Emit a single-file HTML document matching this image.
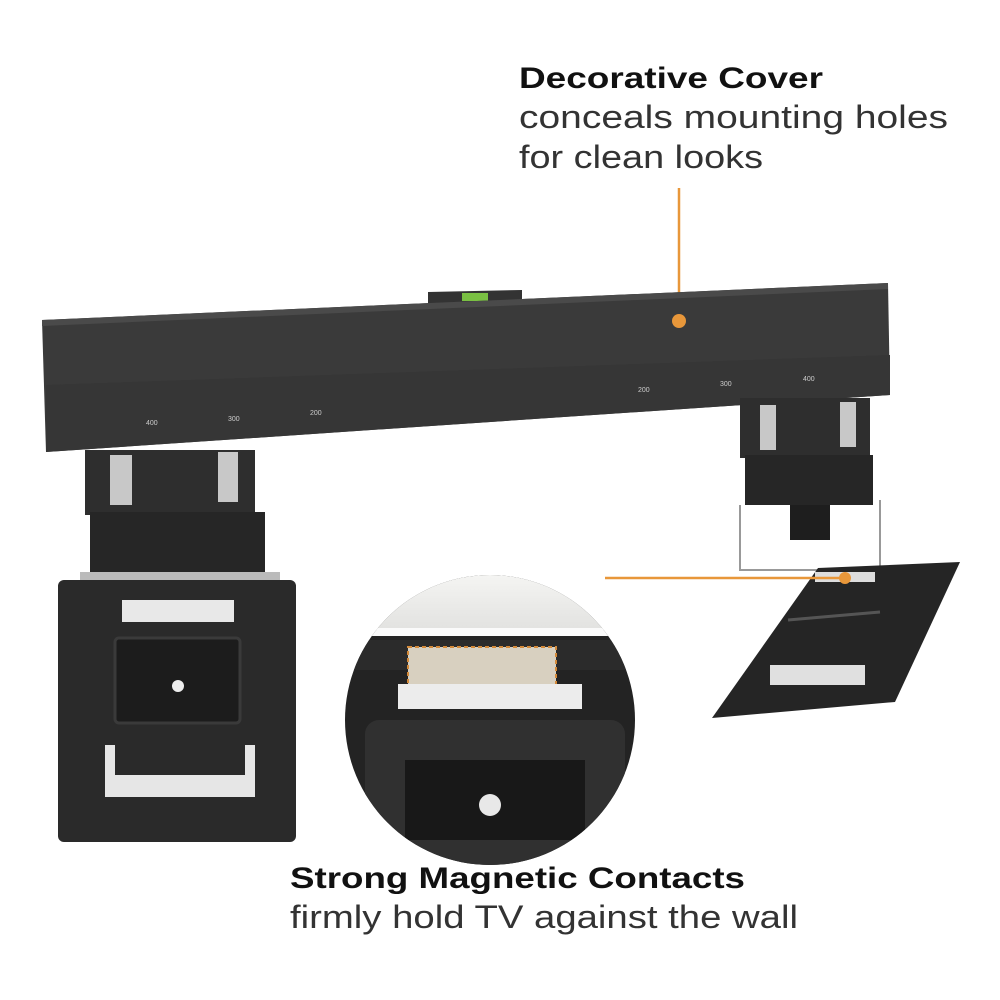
<!DOCTYPE html>
<html><head><meta charset="utf-8"><style>
html,body{margin:0;padding:0;background:#fff;}
svg{display:block}
</style></head><body>
<svg width="1000" height="1000" viewBox="0 0 1000 1000" xmlns="http://www.w3.org/2000/svg" font-family="Liberation Sans, sans-serif">
<defs>
<clipPath id="cc"><circle cx="490" cy="720" r="145"/></clipPath>
<linearGradient id="sky" x1="0" y1="0" x2="0" y2="1"><stop offset="0" stop-color="#f6f6f4"/><stop offset="1" stop-color="#e2e2e0"/></linearGradient>
</defs>
<rect width="1000" height="1000" fill="#fff"/>
<!-- top text -->
<text x="519" y="88" font-size="30" font-weight="bold" fill="#111" textLength="304" lengthAdjust="spacingAndGlyphs">Decorative Cover</text>
<text x="519" y="128" font-size="32" fill="#333" textLength="429" lengthAdjust="spacingAndGlyphs">conceals mounting holes</text>
<text x="519" y="168" font-size="32" fill="#333" textLength="244" lengthAdjust="spacingAndGlyphs">for clean looks</text>
<line x1="679" y1="188" x2="679" y2="320" stroke="#e8973a" stroke-width="2.5"/>
<!-- bar -->
<polygon points="428,292 522,290 522,306 428,308" fill="#333"/>
<rect x="462" y="293" width="26" height="8" fill="#7ac043"/>
<polygon points="42,320 888,283 890,395 46,452" fill="#3a3a3a"/>
<polygon points="42,320 888,283 888,289 42,326" fill="#4a4a4a"/>
<polygon points="46,385 890,355 890,395 46,452" fill="#363636"/>
<circle cx="679" cy="321" r="7" fill="#e8973a"/>
<g font-size="7" fill="#ccc"><text x="146" y="425">400</text><text x="228" y="421">300</text><text x="310" y="415">200</text><text x="638" y="392">200</text><text x="720" y="386">300</text><text x="803" y="381">400</text></g>
<!-- left bracket -->
<rect x="85" y="450" width="170" height="65" fill="#2e2e2e"/>
<rect x="110" y="455" width="22" height="50" fill="#c8c8c8"/><rect x="218" y="452" width="20" height="50" fill="#c8c8c8"/>
<rect x="90" y="512" width="175" height="65" fill="#262626"/>
<rect x="80" y="572" width="200" height="12" fill="#bbb"/>
<rect x="58" y="580" width="238" height="262" rx="6" fill="#2a2a2a"/>
<rect x="122" y="600" width="112" height="22" fill="#e8e8e8"/>
<rect x="115" y="638" width="125" height="85" rx="4" fill="#1c1c1c" stroke="#3a3a3a" stroke-width="3"/>
<circle cx="178" cy="686" r="6" fill="#eee"/>
<rect x="105" y="745" width="150" height="52" fill="#e6e6e6"/>
<rect x="115" y="745" width="130" height="30" fill="#2a2a2a"/>
<!-- right bracket -->
<rect x="740" y="398" width="130" height="60" fill="#2e2e2e"/>
<rect x="760" y="405" width="16" height="45" fill="#c8c8c8"/><rect x="840" y="402" width="16" height="45" fill="#c8c8c8"/>
<rect x="745" y="455" width="128" height="50" fill="#262626"/>
<rect x="790" y="505" width="40" height="35" fill="#1e1e1e"/>
<polyline points="740,505 740,570 880,570 880,500" fill="none" stroke="#999" stroke-width="2"/>
<polygon points="818,568 960,562 895,702 712,718" fill="#252525"/>
<rect x="815" y="572" width="60" height="10" fill="#ddd"/>
<rect x="770" y="665" width="95" height="20" fill="#e0e0e0"/>
<line x1="788" y1="620" x2="880" y2="612" stroke="#555" stroke-width="3"/>
<!-- circle -->
<g clip-path="url(#cc)">
<rect x="340" y="570" width="300" height="300" fill="#232323"/>
<rect x="340" y="570" width="300" height="60" fill="url(#sky)"/>
<rect x="340" y="628" width="300" height="8" fill="#fafafa"/>
<rect x="340" y="640" width="300" height="30" fill="#2b2b2b"/>
<rect x="408" y="647" width="148" height="38" fill="#d8d0c0" stroke="#d48a3a" stroke-width="2" stroke-dasharray="4,3"/>
<rect x="398" y="684" width="184" height="25" fill="#ececec"/>
<rect x="365" y="720" width="260" height="160" rx="14" fill="#303030"/>
<rect x="405" y="760" width="180" height="80" fill="#181818"/>
<circle cx="490" cy="805" r="11" fill="#e8e8e8"/>
</g>
<line x1="605" y1="578" x2="845" y2="578" stroke="#e8973a" stroke-width="2.5"/>
<circle cx="845" cy="578" r="6" fill="#e8973a"/>
<!-- bottom text -->
<text x="290" y="888" font-size="30" font-weight="bold" fill="#111" textLength="455" lengthAdjust="spacingAndGlyphs">Strong Magnetic Contacts</text>
<text x="290" y="928" font-size="32" fill="#333" textLength="508" lengthAdjust="spacingAndGlyphs">firmly hold TV against the wall</text>
</svg>
</body></html>
